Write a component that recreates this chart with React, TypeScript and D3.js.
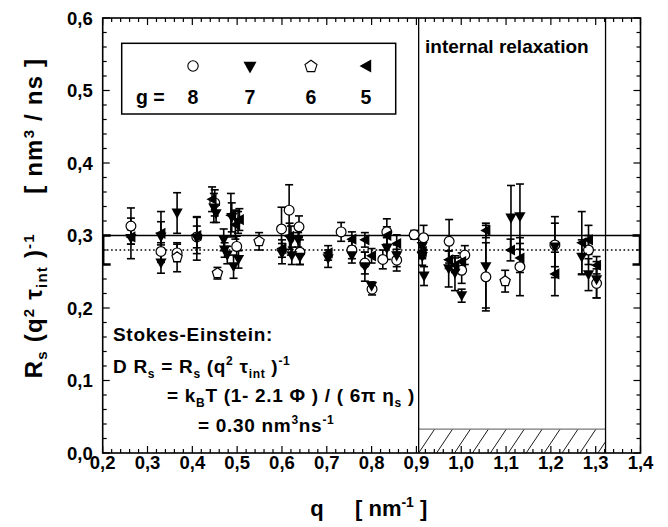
import React from 'react';
import * as d3 from 'd3';

// ---------- axis ticks ----------
const xTickValues = [0.2, 0.3, 0.4, 0.5, 0.6, 0.7, 0.8, 0.9, 1.0, 1.1, 1.2, 1.3, 1.4];
const xTickLabels = ['0,2', '0,3', '0,4', '0,5', '0,6', '0,7', '0,8', '0,9', '1,0', '1,1', '1,2', '1,3', '1,4'];
const yTickValues = [0.0, 0.1, 0.2, 0.3, 0.4, 0.5, 0.6];
const yTickLabels = ['0,0', '0,1', '0,2', '0,3', '0,4', '0,5', '0,6'];

// ---------- series g = 8 (open circles) ----------
const g8Q = [0.263, 0.330, 0.366, 0.410, 0.450, 0.499, 0.599, 0.616, 0.638, 0.640, 0.732, 0.756, 0.785, 0.801, 0.825, 0.834, 0.856, 0.895, 0.916, 0.973, 1.001, 1.008, 1.055, 1.131, 1.209, 1.284, 1.302];
const g8R = [0.313, 0.278, 0.276, 0.298, 0.345, 0.285, 0.309, 0.335, 0.312, 0.277, 0.305, 0.280, 0.262, 0.226, 0.267, 0.305, 0.266, 0.301, 0.297, 0.292, 0.252, 0.273, 0.243, 0.257, 0.287, 0.280, 0.234];
const g8E = [0.025, 0.012, 0.012, 0.015, 0.018, 0.014, 0.030, 0.035, 0.015, 0.017, 0.013, 0.012, 0.015, 0.008, 0.013, 0.018, 0.015, 0.006, 0.017, 0.030, 0.018, 0.013, 0.047, 0.040, 0.030, 0.020, 0.020];

// ---------- series g = 7 (filled down triangles) ----------
const g7Q = [0.263, 0.330, 0.330, 0.366, 0.410, 0.448, 0.453, 0.470, 0.472, 0.478, 0.492, 0.488, 0.502, 0.503, 0.600, 0.620, 0.622, 0.636, 0.640, 0.703, 0.756, 0.785, 0.800, 0.834, 0.856, 0.913, 0.913, 0.917, 0.972, 0.986, 1.001, 1.055, 1.111, 1.131, 1.209, 1.269, 1.284, 1.302];
const g7R = [0.296, 0.298, 0.262, 0.331, 0.296, 0.338, 0.330, 0.294, 0.280, 0.273, 0.257, 0.325, 0.318, 0.267, 0.275, 0.293, 0.272, 0.294, 0.270, 0.268, 0.272, 0.257, 0.230, 0.282, 0.272, 0.285, 0.271, 0.244, 0.254, 0.248, 0.217, 0.257, 0.324, 0.326, 0.284, 0.270, 0.246, 0.239];
const g7E = [0.028, 0.035, 0.014, 0.028, 0.030, 0.020, 0.012, 0.015, 0.010, 0.012, 0.016, 0.020, 0.015, 0.012, 0.014, 0.020, 0.012, 0.010, 0.010, 0.012, 0.010, 0.020, 0.006, 0.015, 0.015, 0.015, 0.012, 0.013, 0.025, 0.024, 0.009, 0.057, 0.045, 0.045, 0.042, 0.024, 0.022, 0.025];

// ---------- series g = 6 (open pentagons) ----------
const g6Q = [0.366, 0.456, 0.549, 1.098];
const g6R = [0.270, 0.248, 0.292, 0.237];
const g6E = [0.020, 0.008, 0.012, 0.015];

// ---------- series g = 5 (filled left triangles) ----------
const g5Q = [0.263, 0.330, 0.410, 0.444, 0.486, 0.496, 0.505, 0.600, 0.617, 0.703, 0.756, 0.785, 0.800, 0.834, 0.856, 0.913, 0.972, 0.986, 1.001, 1.055, 1.110, 1.131, 1.209, 1.269, 1.284, 1.302];
const g5R = [0.298, 0.303, 0.300, 0.350, 0.328, 0.315, 0.322, 0.282, 0.299, 0.276, 0.295, 0.294, 0.272, 0.300, 0.289, 0.278, 0.2665, 0.259, 0.264, 0.307, 0.280, 0.269, 0.247, 0.290, 0.294, 0.259];
const g5E = [0.010, 0.016, 0.025, 0.017, 0.030, 0.020, 0.015, 0.012, 0.018, 0.010, 0.010, 0.010, 0.010, 0.012, 0.012, 0.010, 0.012, 0.010, 0.012, 0.010, 0.015, 0.020, 0.030, 0.043, 0.020, 0.012];

// ---------- reference lines / regions ----------
const stokesEinsteinValue = 0.30;
const meanValue = 0.28;
const edgeBarQ = [0.2, 1.4];
const edgeBarLow = 0.26;
const edgeBarHigh = 0.30;
const relaxationRegion = [0.905, 1.322];
const hatchHeight = 0.033;

const FONT = '"Liberation Sans", Arial, Helvetica, sans-serif';

type Pt = { q: number; r: number; e: number };
const zip = (q: number[], r: number[], e: number[]): Pt[] => q.map((v, i) => ({ q: v, r: r[i], e: e[i] }));

export default function App() {
  const W = 668, H = 527;
  const x = d3.scaleLinear().domain([0.2, 1.4]).range([102.7, 640.5]);
  const y = d3.scaleLinear().domain([0, 0.6]).range([453, 18]);
  const [x0, x1] = x.range();
  const [y0, y1] = y.range();

  const s8 = zip(g8Q, g8R, g8E);
  const s7 = zip(g7Q, g7R, g7E);
  const s6 = zip(g6Q, g6R, g6E);
  const s5 = zip(g5Q, g5R, g5E);
  const all = [...s8, ...s7, ...s6, ...s5];

  const xMinor = d3.range(0.2, 1.4001, 0.02);
  const yMinor = d3.range(0, 0.6001, 0.02);

  const downTri = (cx: number, cy: number, s = 5.6) =>
    `M${cx - s},${cy - s * 0.8}L${cx + s},${cy - s * 0.8}L${cx},${cy + s * 1.0}Z`;
  const leftTri = (cx: number, cy: number, s = 5.6) =>
    `M${cx + s * 0.8},${cy - s}L${cx + s * 0.8},${cy + s}L${cx - s},${cy}Z`;
  const pentagon = (cx: number, cy: number, r = 5.4) => {
    const pts = d3.range(5).map(i => {
      const a = -Math.PI / 2 + (i * 2 * Math.PI) / 5;
      return [cx + r * Math.cos(a), cy + r * Math.sin(a)];
    });
    return 'M' + pts.map(p => p.join(',')).join('L') + 'Z';
  };

  const hatchLines = d3.range(relaxationRegion[0] - 0.04, relaxationRegion[1] + 0.001, 0.04);
  const hx0 = x(relaxationRegion[0]), hx1 = x(relaxationRegion[1]);
  const hyTop = y(hatchHeight);

  const supDy = -8;
  const subDy = 5;

  return (
    <svg width={W} height={H} style={{ position: 'absolute', left: 0, top: 0, background: '#fff' }}
      fontFamily={FONT} fontWeight="bold">
      <defs>
        <clipPath id="plotClip">
          <rect x={x0} y={y1} width={x1 - x0} height={y0 - y1} />
        </clipPath>
        <clipPath id="hatchClip">
          <rect x={hx0} y={hyTop} width={hx1 - hx0} height={y0 - hyTop} />
        </clipPath>
      </defs>
      <rect x={0} y={0} width={W} height={H} fill="#fff" />

      {/* hatched region */}
      <g clipPath="url(#hatchClip)">
        {hatchLines.map((q, i) => (
          <line key={i} x1={x(q)} y1={y0} x2={x(q) + 16} y2={hyTop} stroke="#000" strokeWidth={0.9} />
        ))}
      </g>
      <line x1={hx0} x2={hx1} y1={hyTop} y2={hyTop} stroke="#777" strokeWidth={1.2} />

      {/* vertical region lines */}
      {relaxationRegion.map((q, i) => (
        <line key={i} x1={x(q)} x2={x(q)} y1={y0} y2={y1} stroke="#000" strokeWidth={1.3} />
      ))}

      {/* reference horizontal lines */}
      <line x1={x0} x2={x1} y1={y(stokesEinsteinValue)} y2={y(stokesEinsteinValue)} stroke="#000" strokeWidth={1.5} />
      <line x1={x0} x2={x1} y1={y(meanValue)} y2={y(meanValue)} stroke="#000" strokeWidth={1.4} strokeDasharray="1.6,2.6" />

      {/* edge bars */}
      <g clipPath="url(#plotClip)">
        {edgeBarQ.map((q, i) => (
          <g key={i} stroke="#000">
            <line x1={x(q)} x2={x(q)} y1={y(edgeBarLow)} y2={y(edgeBarHigh)} strokeWidth={3.5} />
            <line x1={x(q) - 8} x2={x(q) + 8} y1={y(edgeBarLow)} y2={y(edgeBarLow)} strokeWidth={2.5} />
            <line x1={x(q) - 8} x2={x(q) + 8} y1={y(edgeBarHigh)} y2={y(edgeBarHigh)} strokeWidth={2.5} />
          </g>
        ))}
      </g>

      {/* error bars */}
      <g stroke="#000" strokeWidth={1.6}>
        {all.map((d, i) => (
          <g key={i}>
            <line x1={x(d.q)} x2={x(d.q)} y1={y(d.r - d.e)} y2={y(d.r + d.e)} />
            <line x1={x(d.q) - 4} x2={x(d.q) + 4} y1={y(d.r - d.e)} y2={y(d.r - d.e)} />
            <line x1={x(d.q) - 4} x2={x(d.q) + 4} y1={y(d.r + d.e)} y2={y(d.r + d.e)} />
          </g>
        ))}
      </g>

      {/* markers */}
      {s8.map((d, i) => (
        <circle key={'c' + i} cx={x(d.q)} cy={y(d.r)} r={4.9} fill="#fff" stroke="#000" strokeWidth={1.2} />
      ))}
      {s6.map((d, i) => (
        <path key={'p' + i} d={pentagon(x(d.q), y(d.r))} fill="#fff" stroke="#000" strokeWidth={1.2} />
      ))}
      {s7.map((d, i) => (
        <path key={'t' + i} d={downTri(x(d.q), y(d.r))} fill="#000" />
      ))}
      {s5.map((d, i) => (
        <path key={'l' + i} d={leftTri(x(d.q), y(d.r))} fill="#000" />
      ))}

      {/* frame */}
      <rect x={x0} y={y1} width={x1 - x0} height={y0 - y1} fill="none" stroke="#000" strokeWidth={1.6} />

      {/* ticks */}
      <g stroke="#000" strokeWidth={1.2}>
        {xMinor.map((v, i) => {
          const major = Math.abs(Math.round(v * 10) - v * 10) < 1e-6;
          const L = major ? 7 : 4;
          return (
            <g key={i}>
              <line x1={x(v)} x2={x(v)} y1={y0} y2={y0 - L} />
              <line x1={x(v)} x2={x(v)} y1={y1} y2={y1 + L} />
            </g>
          );
        })}
        {yMinor.map((v, i) => {
          const major = Math.abs(Math.round(v * 10) - v * 10) < 1e-6;
          const L = major ? 7 : 4;
          return (
            <g key={i}>
              <line x1={x0} x2={x0 + L} y1={y(v)} y2={y(v)} />
              <line x1={x1} x2={x1 - L} y1={y(v)} y2={y(v)} />
            </g>
          );
        })}
      </g>

      {/* tick labels */}
      <g fontSize={18.5} fill="#000">
        {xTickValues.map((v, i) => (
          <text key={i} x={x(v)} y={y0 + 16} textAnchor="middle">{xTickLabels[i]}</text>
        ))}
        {yTickValues.map((v, i) => (
          <text key={i} x={x0 - 10} y={y(v) + 6.5} textAnchor="end">{yTickLabels[i]}</text>
        ))}
      </g>

      {/* x axis title */}
      <g fontSize={22} fill="#000">
        <text x={317} y={516} textAnchor="middle">q</text>
        <text x={355} y={516}>[ nm<tspan fontSize={14} dy={-9}>-1</tspan><tspan dy={9}> ]</tspan></text>
      </g>

      {/* y axis title */}
      <text transform="translate(42,218) rotate(-90)" textAnchor="middle" fontSize={24} letterSpacing={1.2} fill="#000">
        R<tspan fontSize={15} dy={subDy}>s</tspan>
        <tspan dy={-subDy}> (q</tspan>
        <tspan fontSize={15} dy={supDy}>2</tspan>
        <tspan dy={-supDy}> τ</tspan>
        <tspan fontSize={15} dy={subDy}>int</tspan>
        <tspan dy={-subDy}> )</tspan>
        <tspan fontSize={15} dy={supDy}>-1</tspan>
        <tspan dy={-supDy}>{'\u00A0\u00A0\u00A0\u00A0\u00A0[ nm'}</tspan>
        <tspan fontSize={15} dy={supDy}>3</tspan>
        <tspan dy={-supDy}> / ns ]</tspan>
      </text>

      {/* legend */}
      <rect x={121.7} y={43.3} width={274} height={70.7} fill="none" stroke="#000" strokeWidth={1.5} />
      <circle cx={193} cy={66} r={5.2} fill="#fff" stroke="#000" strokeWidth={1.1} />
      <path d={downTri(250, 67, 6.5)} fill="#000" />
      <path d={pentagon(311, 66.5, 6.3)} fill="#fff" stroke="#000" strokeWidth={1.1} />
      <path d={leftTri(366, 66, 6.5)} fill="#000" />
      <g fontSize={19.5} fill="#000">
        <text x={136} y={104}>g =</text>
        <text x={193} y={104} textAnchor="middle">8</text>
        <text x={250} y={104} textAnchor="middle">7</text>
        <text x={311} y={104} textAnchor="middle">6</text>
        <text x={366} y={104} textAnchor="middle">5</text>
      </g>

      {/* region label */}
      <text x={425} y={53} fontSize={19} fill="#000">internal relaxation</text>

      {/* Stokes-Einstein annotation */}
      <g fontSize={19} letterSpacing={0.7} fill="#000">
        <text x={113} y={341}>Stokes-Einstein:</text>
        <text x={113} y={373}>
          D R<tspan fontSize={12} dy={subDy}>s</tspan>
          <tspan dy={-subDy}> =  R</tspan>
          <tspan fontSize={12} dy={subDy}>s</tspan>
          <tspan dy={-subDy}> (q</tspan>
          <tspan fontSize={12} dy={supDy}>2</tspan>
          <tspan dy={-supDy}> τ</tspan>
          <tspan fontSize={12} dy={subDy}>int</tspan>
          <tspan dy={-subDy}> )</tspan>
          <tspan fontSize={12} dy={supDy}>-1</tspan>
        </text>
        <text x={167} y={402}>
          =  k<tspan fontSize={12} dy={subDy}>B</tspan>
          <tspan dy={-subDy}>T (1- 2.1 Φ ) / ( 6π η</tspan>
          <tspan fontSize={12} dy={subDy}>s</tspan>
          <tspan dy={-subDy}> )</tspan>
        </text>
        <text x={198} y={432}>
          = 0.30 nm<tspan fontSize={12} dy={supDy}>3</tspan>
          <tspan dy={-supDy}>ns</tspan>
          <tspan fontSize={12} dy={supDy}>-1</tspan>
        </text>
      </g>
    </svg>
  );
}
